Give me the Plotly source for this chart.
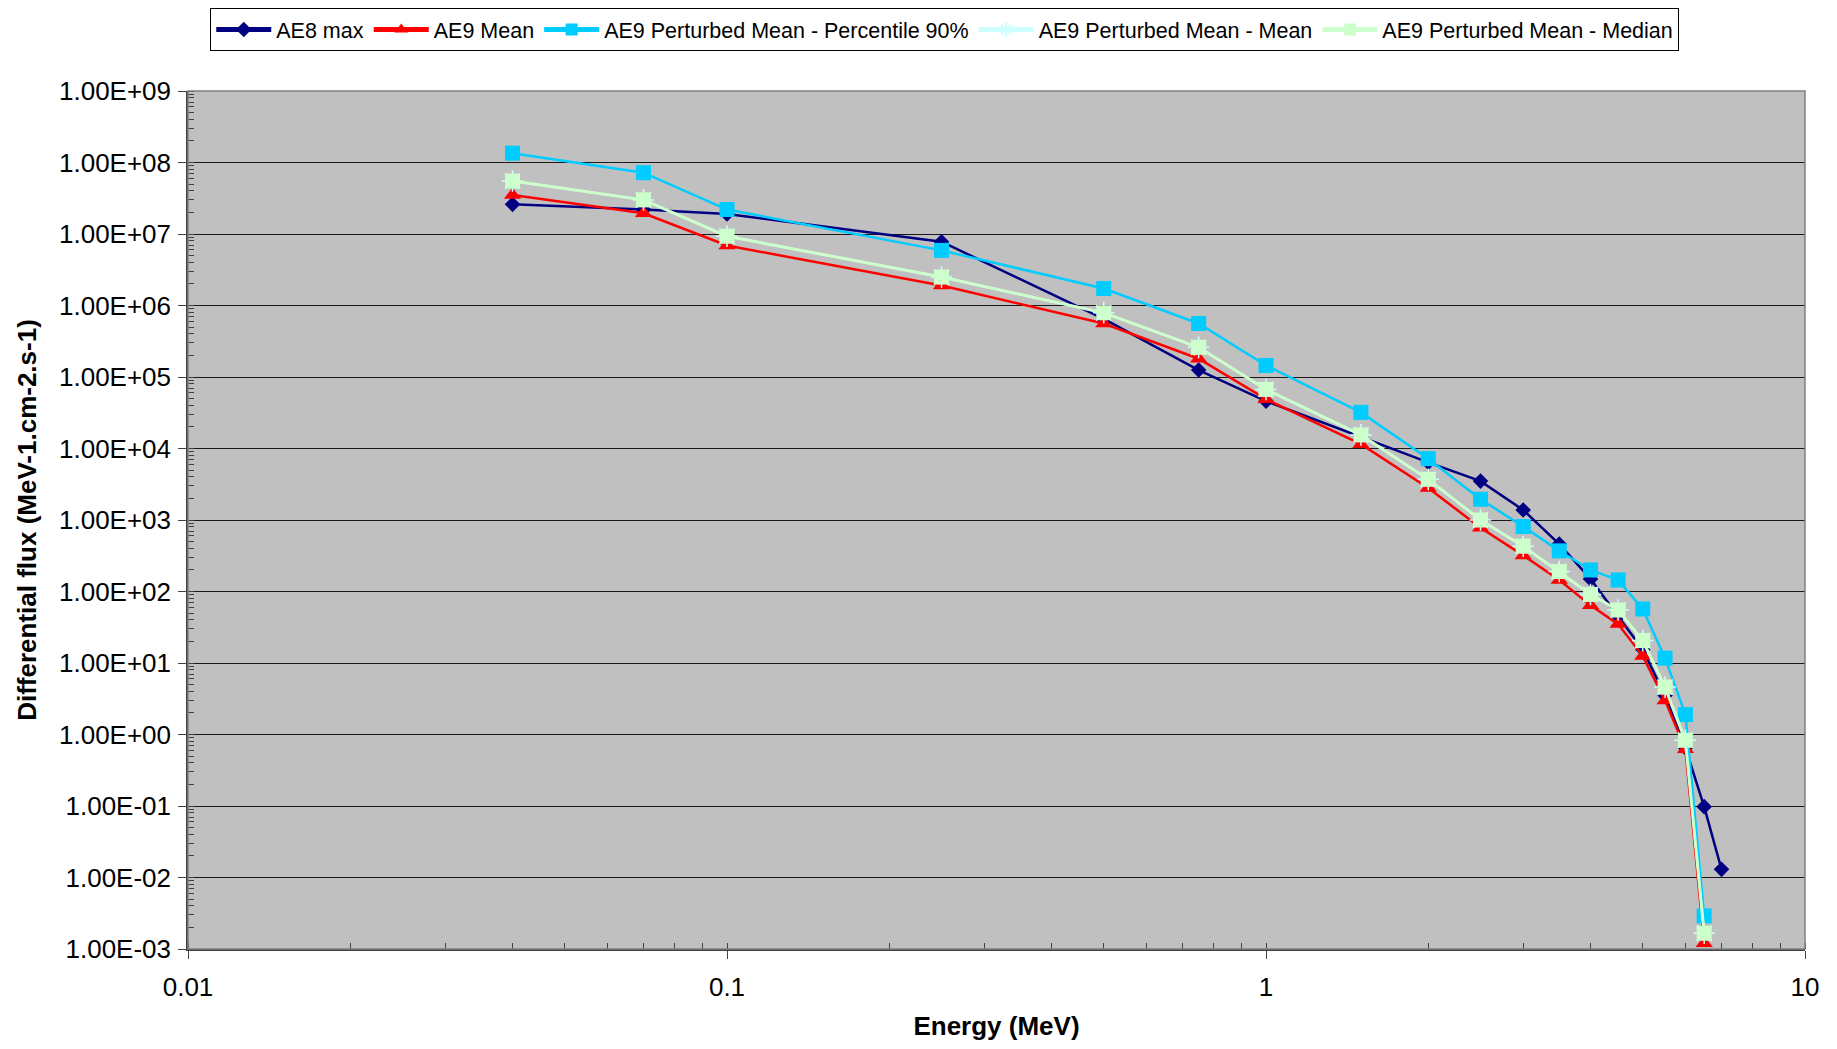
import plotly.graph_objects as go

# ---- data ----
energy_ae8 = [0.04, 0.07, 0.1, 0.25, 0.5, 0.75, 1, 1.5, 2, 2.5, 3, 3.5, 4, 4.5, 5, 5.5, 6, 6.5, 7]
ae8_max = [2.6e7, 2.2e7, 1.9e7, 7.8e6, 6.5e5, 1.25e5, 4.6e4, 1.45e4, 6.4e3, 3.5e3, 1.38e3,
           4.6e2, 1.5e2, 45, 15.5, 3.5, 0.65, 0.098, 0.013]

energy_ae9 = [0.04, 0.07, 0.1, 0.25, 0.5, 0.75, 1, 1.5, 2, 2.5, 3, 3.5, 4, 4.5, 5, 5.5, 6, 6.5]
ae9_mean = [3.5e7, 1.95e7, 6.9e6, 1.9e6, 5.6e5, 1.8e5, 4.9e4, 1.15e4, 2.8e3, 7.8e2, 3.2e2,
            1.45e2, 64, 35, 12.5, 3.0, 0.62, 1.2e-3]
pm_p90 = [1.35e8, 7.2e7, 2.2e7, 5.9e6, 1.73e6, 5.6e5, 1.45e5, 3.2e4, 7.2e3, 1.95e3, 8.1e2,
          3.7e2, 2.0e2, 1.45e2, 57, 11.7, 1.9, 2.9e-3]
pm_mean = [5.5e7, 3.0e7, 9.3e6, 2.5e6, 7.9e5, 2.6e5, 6.7e4, 1.55e4, 3.7e3, 1.0e3, 4.3e2,
           1.9e2, 91, 55, 20.6, 4.6, 0.83, 1.66e-3]
pm_median = [5.5e7, 3.0e7, 9.3e6, 2.5e6, 7.9e5, 2.6e5, 6.7e4, 1.55e4, 3.7e3, 1.0e3, 4.3e2,
             1.9e2, 91, 55, 20.6, 4.6, 0.83, 1.66e-3]

x_tickvals = [0.01, 0.1, 1, 10]
x_ticktext = ["0.01", "0.1", "1", "10"]
y_tickvals = [1e-3, 1e-2, 1e-1, 1e0, 1e1, 1e2, 1e3, 1e4, 1e5, 1e6, 1e7, 1e8, 1e9]
y_ticktext = ["1.00E-03", "1.00E-02", "1.00E-01", "1.00E+00", "1.00E+01", "1.00E+02",
              "1.00E+03", "1.00E+04", "1.00E+05", "1.00E+06", "1.00E+07", "1.00E+08", "1.00E+09"]

FONT = "Arial, 'Liberation Sans', sans-serif"

fig = go.Figure()
fig.add_trace(go.Scatter(x=energy_ae8, y=ae8_max, name="AE8 max", mode="lines+markers",
                         line=dict(color="#000080", width=2.5),
                         marker=dict(symbol="diamond", size=12, color="#000080")))
fig.add_trace(go.Scatter(x=energy_ae9, y=ae9_mean, name="AE9 Mean", mode="lines+markers",
                         line=dict(color="#FF0000", width=2.5),
                         marker=dict(symbol="triangle-up", size=15, color="#FF0000")))
fig.add_trace(go.Scatter(x=energy_ae9, y=pm_p90, name="AE9 Perturbed Mean - Percentile 90%",
                         mode="lines+markers",
                         line=dict(color="#00CCFF", width=2.5),
                         marker=dict(symbol="square", size=15, color="#00CCFF")))
fig.add_trace(go.Scatter(x=energy_ae9, y=pm_mean, name="AE9 Perturbed Mean - Mean",
                         mode="lines+markers",
                         line=dict(color="#CCFFFF", width=2),
                         marker=dict(symbol="asterisk-open", size=18,
                                     line=dict(color="#CCFFFF", width=1.5))))
fig.add_trace(go.Scatter(x=energy_ae9, y=pm_median, name="AE9 Perturbed Mean - Median",
                         mode="lines+markers",
                         line=dict(color="#CCFFCC", width=3),
                         marker=dict(symbol="square", size=15, color="#CCFFCC")))

axis_common = dict(
    type="log", automargin=False,
    showline=True, linecolor="#404040", linewidth=1.5, mirror=False,
    ticks="outside", ticklen=8, tickcolor="#404040", tickwidth=1,
    tickfont=dict(family=FONT, size=26, color="black"),
    minor=dict(ticks="inside", ticklen=6, tickcolor="#404040", tickwidth=1,
               showgrid=False, dtick="D1"),
)

fig.update_xaxes(**axis_common, range=[-2, 1], tickvals=x_tickvals, ticktext=x_ticktext,
                 showgrid=False, zeroline=False, ticklabelstandoff=6,
                 title=dict(text="<b>Energy (MeV)</b>", standoff=24,
                            font=dict(family=FONT, size=26, color="black")))
fig.update_yaxes(**axis_common, range=[-3, 9], tickvals=y_tickvals, ticktext=y_ticktext,
                 showgrid=True, gridcolor="#1a1a1a", gridwidth=1, zeroline=False,
                 ticklabelstandoff=2,
                 title=dict(text="<b>Differential flux (MeV-1.cm-2.s-1)</b>", standoff=15,
                            font=dict(family=FONT, size=26, color="black")))

fig.add_shape(type="rect", xref="paper", yref="paper", x0=0, x1=1, y0=0, y1=1,
              line=dict(color="#808080", width=1.5), fillcolor="rgba(0,0,0,0)", layer="above")

# page body has an 8px margin; figure sized so it fills the 1837x1049 window exactly
fig.update_layout(
    width=1821, height=1033,
    paper_bgcolor="white", plot_bgcolor="#C0C0C0",
    margin=dict(l=180, r=24, t=83, b=92, autoexpand=False),
    font=dict(family=FONT, color="black"),
    showlegend=True,
    legend=dict(orientation="h", x=0.468, xanchor="center", xref="paper",
                y=1.0, yanchor="top", yref="container",
                bgcolor="white", bordercolor="black", borderwidth=1,
                font=dict(family=FONT, size=21.5, color="black"),
                itemsizing="constant", itemwidth=55, tracegroupgap=0),
)

fig.write_html("out.html")
